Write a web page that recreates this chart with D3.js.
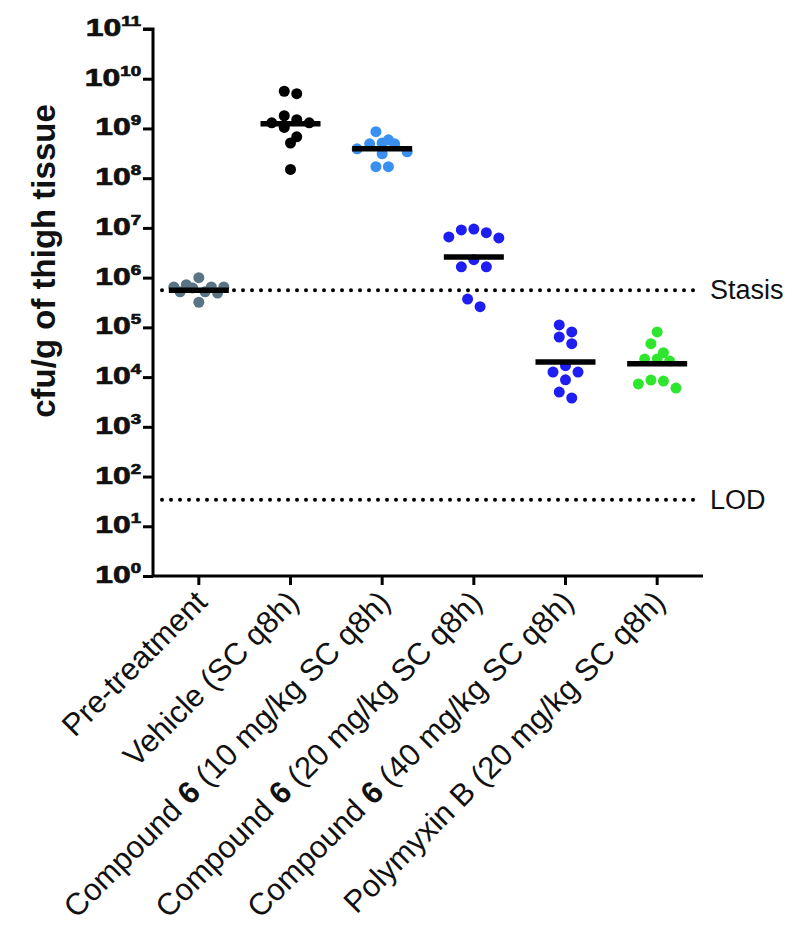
<!DOCTYPE html>
<html>
<head>
<meta charset="utf-8">
<script src="https://cdn.jsdelivr.net/npm/d3@7/dist/d3.min.js"></script>
<style>
  html, body { margin: 0; padding: 0; background: #fff; }
  svg { display: block; }
  text { font-family: "Liberation Sans", Arial, sans-serif; }
</style>
</head>
<body>
<svg id="chart" width="796" height="942"></svg>
<script>
// ---- data ----
const categories = [
  "Pre-treatment",
  "Vehicle (SC q8h)",
  "Compound 6 (10 mg/kg SC q8h)",
  "Compound 6 (20 mg/kg SC q8h)",
  "Compound 6 (40 mg/kg SC q8h)",
  "Polymyxin B (20 mg/kg SC q8h)"
];
const preTreatment = [6.5e5, 7.2e5, 6.5e5, 3.2e5, 5.2e5, 4.9e5, 1.0e6, 5.2e5, 6.5e5, 6.2e5];
const vehicle      = [5.0e9, 5.6e9, 1.3e9, 1.3e9, 1.05e9, 1.5e9, 1.8e9, 5.1e8, 6.8e8, 1.5e8];
const cmpd10       = [8.6e8, 5.9e8, 4.9e8, 4.9e8, 5.1e8, 3.9e8, 3.4e8, 3.1e8, 1.7e8, 1.7e8];
const cmpd20       = [9.1e6, 6.3e6, 6.6e6, 8.0e6, 9.5e6, 2.3e6, 1.65e6, 1.65e6, 3.7e5, 2.6e5];
const cmpd40       = [8.1e4, 1.12e5, 6.4e4, 4.7e4, 1.7e4, 1.26e4, 1.26e4, 8.8e3, 5.0e3, 3.8e3];
const polymyxin    = [8.1e4, 4.7e4, 3.1e4, 2.3e4, 2.1e4, 2.3e4, 8.7e3, 7.3e3, 8.3e3, 6.0e3];
const medians      = [5.6e5, 1.25e9, 3.9e8, 2.6e6, 2.0e4, 1.85e4];
const yTickExponents = [0, 1, 2, 3, 4, 5, 6, 7, 8, 9, 10, 11];
const refLines = [ { label: "Stasis", value: 5.6e5 }, { label: "LOD", value: 34 } ];
const yTitle = "cfu/g of thigh tissue";

const groups = [preTreatment, vehicle, cmpd10, cmpd20, cmpd40, polymyxin];
const colors = ["#5a7485", "#000000", "#3a90f0", "#1e1ef2", "#1e1ef2", "#2fe62f"];

// ---- layout ----
const svg = d3.select("#chart");
const mLeft = 153, mRight = 703, mTop = 29, mBottom = 576;
const R = 5.5;

const x = d3.scaleBand().domain(categories).range([mLeft, mRight]);
const y = d3.scaleLog().domain([1, 1e11]).range([mBottom, mTop]);

// reference dotted lines
refLines.forEach(rl => {
  svg.append("line")
    .attr("x1", mLeft + 9).attr("x2", 698)
    .attr("y1", y(rl.value)).attr("y2", y(rl.value))
    .attr("stroke", "#000").attr("stroke-width", 4)
    .attr("stroke-linecap", "round")
    .attr("stroke-dasharray", "0,9");
  svg.append("text")
    .attr("x", 710).attr("y", y(rl.value) + 9)
    .attr("font-size", 27).attr("fill", "#111")
    .text(rl.label);
});

// row-based scatter placement (points with similar values sit side by side)
function rows(values, cx) {
  const pts = values.map(v => ({ v, py: y(v) })).sort((a, b) => a.py - b.py);
  const out = [];
  let i = 0;
  while (i < pts.length) {
    const row = [pts[i]];
    let j = i + 1;
    while (j < pts.length && pts[j].py - pts[i].py < 2 * R * 0.9) { row.push(pts[j]); j++; }
    const n = row.length, sp = 2 * R + 1.5;
    const slots = d3.range(n).map(k => (k - (n - 1) / 2) * sp)
      .sort((a, b) => Math.abs(a) - Math.abs(b) || a - b);
    row.forEach((p, k) => { p.px = cx + slots[k]; out.push(p); });
    i = j;
  }
  return out;
}

groups.forEach((vals, i) => {
  const cx = x(categories[i]) + x.bandwidth() / 2;
  const pts = rows(vals, cx);
  svg.append("g").selectAll("circle").data(pts).join("circle")
    .attr("cx", d => d.px).attr("cy", d => d.py).attr("r", R)
    .attr("fill", colors[i]);
});

// median lines
medians.forEach((m, i) => {
  const cx = x(categories[i]) + x.bandwidth() / 2;
  svg.append("line")
    .attr("x1", cx - 30).attr("x2", cx + 30)
    .attr("y1", y(m)).attr("y2", y(m))
    .attr("stroke", "#000").attr("stroke-width", 5.5);
});

// axes
const yAxis = d3.axisLeft(y).tickValues(yTickExponents.map(e => Math.pow(10, e)))
  .tickSize(10).tickFormat("");
const gy = svg.append("g").attr("transform", `translate(${mLeft},0)`).call(yAxis);
gy.select(".domain").attr("stroke-width", 3).attr("d", `M-10,${mTop}H0V${mBottom}`);
gy.selectAll(".tick line").attr("stroke-width", 3);

const xAxis = d3.axisBottom(x).tickSize(9).tickFormat("");
const gx = svg.append("g").attr("transform", `translate(0,${mBottom})`).call(xAxis);
gx.select(".domain").attr("stroke-width", 3).attr("d", `M${mLeft},0H${mRight}`);
gx.selectAll(".tick line").attr("stroke-width", 3);

// y tick labels (10^n)
yTickExponents.forEach(e => {
  const t = svg.append("text")
    .attr("transform", `translate(141,${y(Math.pow(10, e)) + 7}) scale(1.33,1)`)
    .attr("text-anchor", "end").attr("font-weight", "bold").attr("font-size", 24)
    .attr("fill", "#111").attr("stroke", "#111").attr("stroke-width", 0.7);
  t.append("tspan").text("10");
  t.append("tspan").attr("font-size", 14).attr("dy", -10).text(String(e));
});

// y title
svg.append("text")
  .attr("transform", `translate(55,261) rotate(-90)`)
  .attr("text-anchor", "middle").attr("font-weight", "bold").attr("font-size", 33).attr("fill", "#111")
  .text(yTitle);

// x labels
categories.forEach(c => {
  const cx = x(c) + x.bandwidth() / 2;
  const t = svg.append("text")
    .attr("transform", `translate(${cx + 10},${mBottom + 28}) rotate(-45)`)
    .attr("text-anchor", "end").attr("font-size", 31).attr("fill", "#111");
  const m = c.match(/^(Compound )(6)( .*)$/);
  if (m) {
    t.append("tspan").text(m[1]);
    t.append("tspan").attr("font-weight", "bold").text(m[2]);
    t.append("tspan").text(m[3]);
  } else {
    t.text(c);
  }
});
</script>
</body>
</html>
